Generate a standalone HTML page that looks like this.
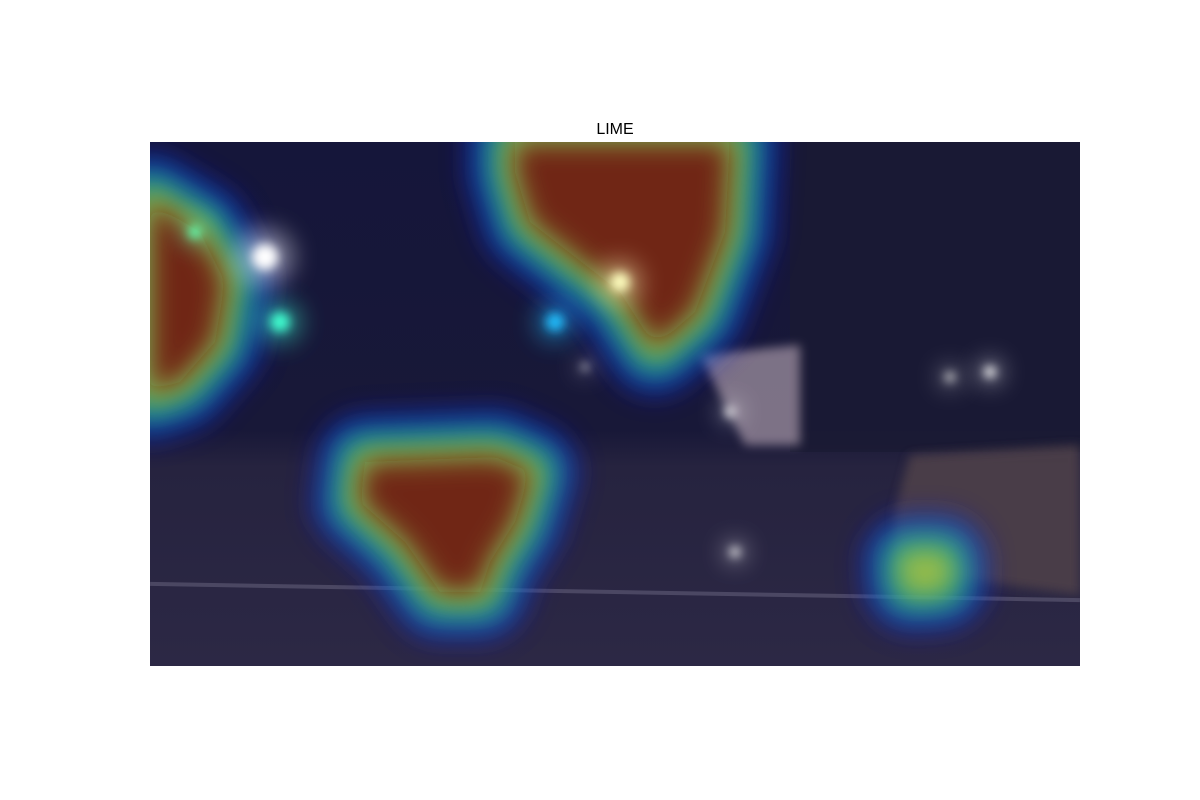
<!DOCTYPE html>
<html><head><meta charset="utf-8"><style>
html,body{margin:0;padding:0;background:#fff;width:1200px;height:800px;overflow:hidden}
svg{display:block}
</style></head><body>
<svg id="chart" width="1200" height="800" xmlns="http://www.w3.org/2000/svg">
<defs>
<filter id="b1" filterUnits="userSpaceOnUse" x="0" y="0" width="1200" height="800"><feGaussianBlur stdDeviation="13"/></filter>
<filter id="b2" filterUnits="userSpaceOnUse" x="0" y="0" width="1200" height="800"><feGaussianBlur stdDeviation="5"/></filter>
<filter id="b3" filterUnits="userSpaceOnUse" x="0" y="0" width="1200" height="800"><feGaussianBlur stdDeviation="12"/></filter>
<linearGradient id="bg" x1="0" y1="0" x2="0" y2="1">
<stop offset="0" stop-color="#15163a"/><stop offset="0.55" stop-color="#181838"/>
<stop offset="0.62" stop-color="#26233f"/><stop offset="1" stop-color="#2c2845"/>
</linearGradient>
<clipPath id="clip"><rect x="150" y="142" width="930" height="524"/></clipPath>
</defs>
<text x="615" y="134" text-anchor="middle" font-family="Liberation Sans, sans-serif" font-size="16" fill="#000">LIME</text>
<g clip-path="url(#clip)">
<rect x="150" y="142" width="930" height="524" fill="url(#bg)"/>
<rect x="790" y="142" width="290" height="310" fill="#1a1a33" opacity="0.8"/>
<polygon points="700,355 800,345 800,445 745,445" fill="#a898a8" opacity="0.7" filter="url(#b2)"/>
<polygon points="910,455 1080,445 1080,595 895,570 895,510" fill="#4e4048" opacity="0.9" filter="url(#b2)"/>
<rect x="150" y="590" width="930" height="4" fill="#5a5670" opacity="0.7" transform="rotate(1 615 592)"/>
<g id="heat"></g>
<g id="lights"></g>
</g>
</svg>
<script>
// heat regions: outline points in image-pixel coordinates (image 930x524)
const regionNames = ["top-center","left","lower-center","right-taxi"];
const regionPoints = [
  [[365,0],[580,0],[575,90],[545,170],[505,205],[470,150],[380,80],[365,30]],
  [[0,60],[50,90],[75,140],[65,200],[30,240],[0,250]],
  [[215,320],[345,315],[380,330],[365,380],[340,420],[330,450],[290,450],[255,400],[210,360]],
  [[760,420],[790,420],[790,440],[762,442]]
];
const regionMaxLayer = [4,4,4,3];
const layerColors = ["#1a1ad0","#00b0e0","#30c860","#e0d020","#6a0e0a"];
const layerWidths = [100,75,50,25,0];
const layerOpacity = [0.45,0.45,0.55,0.6,0.85];
const lightX = [45,115,130,470,405,585,840,800,435,580];
const lightY = [90,115,180,140,180,410,230,235,225,270];
const lightR = [8,16,12,12,11,6,7,6,4,6];
const lightC = ["#60ffb0","#ffffff","#40ffd0","#ffffc0","#20c0ff","#ffffff","#ffffff","#dddddd","#ffffff","#ffffff"];
const ox=150, oy=142;
const sx = v => ox+v, sy = v => oy+v;
const NS="http://www.w3.org/2000/svg";
const heat=document.getElementById('heat');
for(let l=0;l<layerColors.length;l++){
  regionPoints.forEach((pts,i)=>{
    if(l>regionMaxLayer[i]) return;
    const p=document.createElementNS(NS,'polygon');
    p.setAttribute('points',pts.map(q=>sx(q[0])+','+sy(q[1])).join(' '));
    p.setAttribute('fill',layerColors[l]);
    p.setAttribute('stroke',layerColors[l]);
    p.setAttribute('stroke-linejoin','round');
    p.setAttribute('stroke-width',layerWidths[l]);
    p.setAttribute('opacity',layerOpacity[l]);
    p.setAttribute('filter','url(#b1)');
    
    
    heat.appendChild(p);
  });
}
const lights=document.getElementById('lights');
lightX.forEach((x,i)=>{
  const h=document.createElementNS(NS,'circle');
  h.setAttribute('cx',sx(x));h.setAttribute('cy',sy(lightY[i]));h.setAttribute('r',lightR[i]*1.8);
  h.setAttribute('fill',lightC[i]);h.setAttribute('opacity','0.45');h.setAttribute('filter','url(#b3)');
  
  
  lights.appendChild(h);
  const c=document.createElementNS(NS,'circle');
  c.setAttribute('cx',sx(x));c.setAttribute('cy',sy(lightY[i]));c.setAttribute('r',lightR[i]*0.8);
  c.setAttribute('fill',lightC[i]);c.setAttribute('filter','url(#b2)');
  
  
  lights.appendChild(c);
});
</script>
</body></html>
